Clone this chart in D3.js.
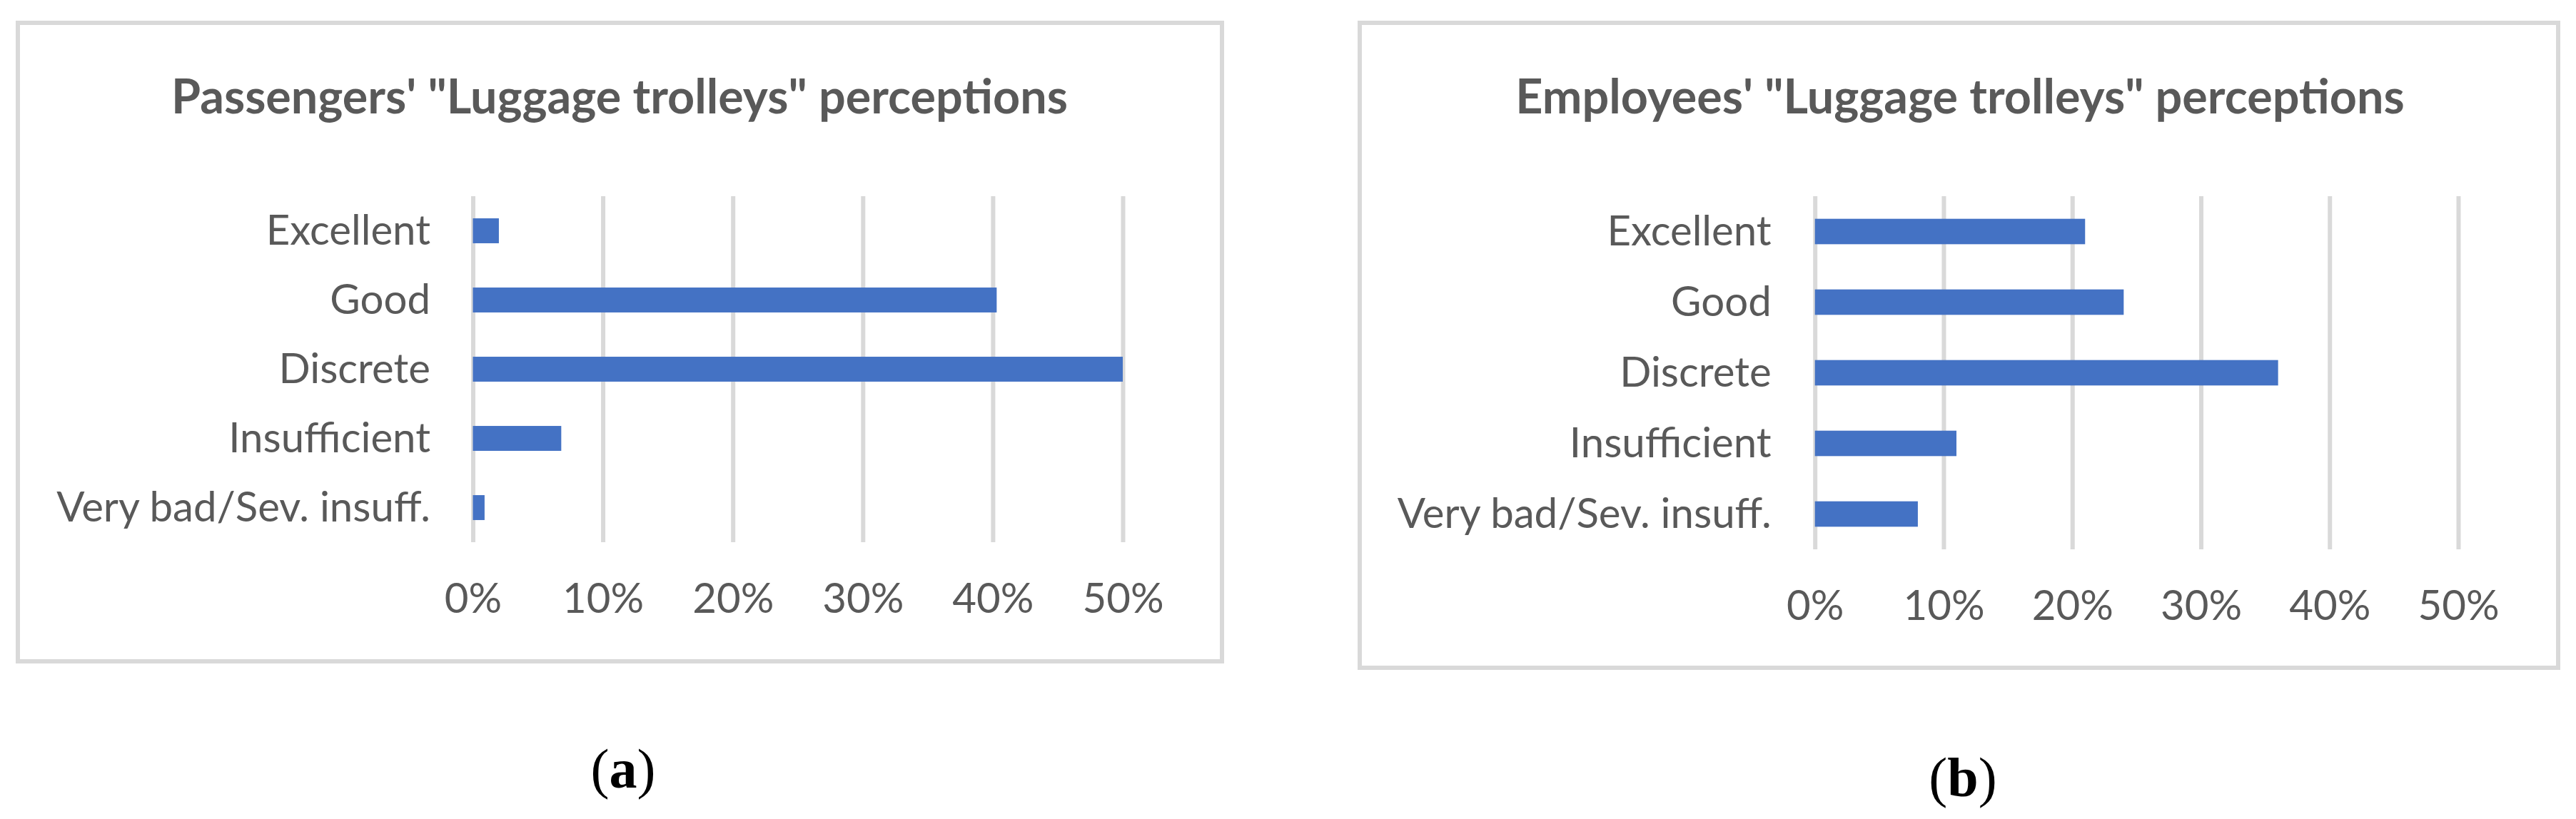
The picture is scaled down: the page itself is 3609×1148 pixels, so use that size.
<!DOCTYPE html>
<html>
<head>
<meta charset="utf-8">
<script src="https://cdn.jsdelivr.net/npm/d3@7"></script>
<style>
  html, body { margin: 0; padding: 0; background: #ffffff; }
  svg { display: block; }
</style>
</head>
<body>
<svg id="chart" width="3609" height="1148"></svg>
<script>
// ---------------- DATA ----------------
const categories = ["Excellent", "Good", "Discrete", "Insufficient", "Very bad/Sev. insuff."];
const passengersValues = [0.02, 0.403, 0.50, 0.068, 0.009];
const employeesValues = [0.21, 0.24, 0.36, 0.11, 0.08];
const tickValues = [0, 0.1, 0.2, 0.3, 0.4, 0.5];
const panelTitles = ["Passengers' \"Luggage trolleys\" perceptions", "Employees' \"Luggage trolleys\" perceptions"];
const panelCaptions = ["a", "b"];

// ---------------- LAYOUT / STYLE ----------------
const TEXT_COLOR = "#595959";
const BAR_COLOR = "#4472C4";
const GRID_COLOR = "#D9D9D9";
const FONT = "Lato, 'Open Sans', sans-serif";

const panels = [
  { values: passengersValues, title: panelTitles[0], caption: panelCaptions[0],
    box: { x: 25, y: 32, w: 1687, h: 895 },
    plot: { x0: 662.5, x1: 1573, y0: 275, y1: 760 },
    titleX: 868, titleY: 159, tickY: 859, labelGap: 59.5,
    capX: 873, capY: 1104 },
  { values: employeesValues, title: panelTitles[1], caption: panelCaptions[1],
    box: { x: 1905, y: 32, w: 1679, h: 904 },
    plot: { x0: 2542.7, x1: 3444, y0: 275, y1: 770 },
    titleX: 2746, titleY: 159, tickY: 869, labelGap: 61,
    capX: 2750, capY: 1116 }
];

const svg = d3.select("#chart");

// Fit font sizes against measured widths in the reference
function fitSize(text, weight, targetWidth) {
  const t = svg.append("text").attr("font-family", FONT).attr("font-weight", weight)
    .attr("font-size", 100).text(text);
  const w = t.node().getComputedTextLength();
  t.remove();
  return 100 * targetWidth / w;
}
const titleSize = fitSize(panelTitles[0], 700, 1256);
const labelSize = fitSize("Very bad/Sev. insuff.", 400, 524);

panels.forEach(p => {
  const g = svg.append("g");

  // Chart border
  g.append("rect")
    .attr("x", p.box.x).attr("y", p.box.y)
    .attr("width", p.box.w).attr("height", p.box.h)
    .attr("fill", "#ffffff")
    .attr("stroke", GRID_COLOR).attr("stroke-width", 6);

  const x = d3.scaleLinear().domain([0, 0.5]).range([p.plot.x0, p.plot.x1]);
  const y = d3.scaleBand().domain(categories).range([p.plot.y0, p.plot.y1])
    .paddingInner(0.64).paddingOuter(0.32);

  // Gridlines + tick labels
  const xAxis = g.append("g")
    .attr("transform", `translate(0,${p.plot.y1})`)
    .call(d3.axisBottom(x).tickValues(tickValues).tickFormat(d3.format(".0%"))
      .tickSize(-(p.plot.y1 - p.plot.y0)).tickPadding(0));
  xAxis.select(".domain").remove();
  xAxis.selectAll(".tick line").attr("stroke", GRID_COLOR).attr("stroke-width", 6);
  xAxis.selectAll(".tick text")
    .attr("y", p.tickY - p.plot.y1).attr("dy", 0)
    .attr("fill", TEXT_COLOR)
    .attr("font-family", FONT).attr("font-size", labelSize);

  // Bars
  g.append("g").selectAll("rect")
    .data(categories.map((c, i) => ({ c, v: p.values[i] })))
    .join("rect")
    .attr("x", x(0))
    .attr("y", d => y(d.c))
    .attr("width", d => x(d.v) - x(0))
    .attr("height", y.bandwidth())
    .attr("fill", BAR_COLOR);

  // Category labels
  const yAxis = g.append("g")
    .attr("transform", `translate(${p.plot.x0},0)`)
    .call(d3.axisLeft(y).tickSize(0).tickPadding(p.labelGap));
  yAxis.select(".domain").remove();
  yAxis.selectAll(".tick text")
    .attr("dy", "0.34em")
    .attr("fill", TEXT_COLOR)
    .attr("font-family", FONT).attr("font-size", labelSize);

  // Title
  g.append("text")
    .attr("x", p.titleX).attr("y", p.titleY)
    .attr("text-anchor", "middle")
    .attr("font-family", FONT).attr("font-weight", 700)
    .attr("font-size", titleSize)
    .attr("fill", TEXT_COLOR)
    .text(p.title);

  // Caption (a)/(b)
  const cap = svg.append("text")
    .attr("x", p.capX).attr("y", p.capY)
    .attr("text-anchor", "middle")
    .attr("font-family", "'Liberation Serif', 'DejaVu Serif', serif")
    .attr("font-size", 78)
    .attr("fill", "#000000");
  cap.append("tspan").text("(");
  cap.append("tspan").attr("font-weight", 700).text(p.caption);
  cap.append("tspan").text(")");
});
</script>
</body>
</html>
